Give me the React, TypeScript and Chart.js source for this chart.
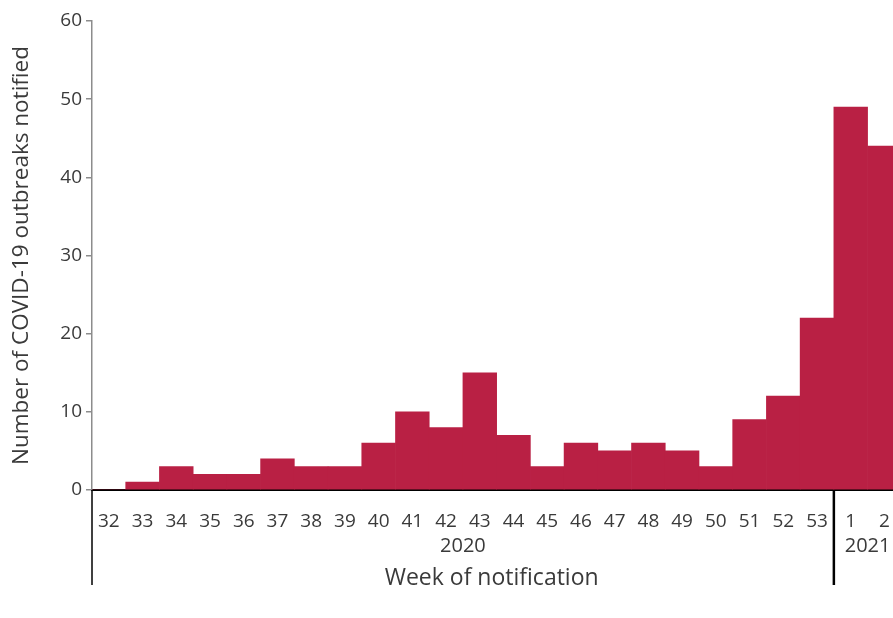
import React, { useEffect, useRef } from "react";
import { Chart, registerables } from "chart.js";

Chart.register(...registerables);

const weekLabels: string[] = ["32","33","34","35","36","37","38","39","40","41","42","43","44","45","46","47","48","49","50","51","52","53","1","2"];
const outbreaks: number[] = [0,1,3,2,2,4,3,3,6,10,8,15,7,3,6,5,6,5,3,9,12,22,49,44];
const yearGroups: { year: string; from: number; to: number }[] = [
  { year: "2020", from: 0, to: 21 },
  { year: "2021", from: 22, to: 23 },
];
const yTicks: number[] = [0, 10, 20, 30, 40, 50, 60];

const FONT = "'Open Sans', 'Liberation Sans', sans-serif";
const TEXT = "#3a3a3a";
const BAR = "#B92044";

const annotations = {
  id: "annotations",
  afterDraw(chart: any) {
    const { ctx, chartArea } = chart;
    const x = chart.scales.x;
    const base = chartArea.bottom;
    ctx.save();
    const edges: number[] = [];
    yearGroups.forEach((g, i) => {
      const left = i === 0 ? x.left : (x.getPixelForValue(g.from - 1) + x.getPixelForValue(g.from)) / 2;
      edges.push(left);
    });
    ctx.strokeStyle = "#000";
    edges.forEach((ex, i) => {
      ctx.lineWidth = i === 0 ? 1.5 : 2.5;
      ctx.beginPath();
      ctx.moveTo(ex, base);
      ctx.lineTo(ex, base + 95);
      ctx.stroke();
    });
    ctx.fillStyle = TEXT;
    ctx.font = `20px ${FONT}`;
    ctx.textAlign = "center";
    ctx.textBaseline = "middle";
    yearGroups.forEach((g) => {
      const l = g.from === 0 ? x.left : (x.getPixelForValue(g.from - 1) + x.getPixelForValue(g.from)) / 2;
      const r = g.to === weekLabels.length - 1 ? x.right : (x.getPixelForValue(g.to) + x.getPixelForValue(g.to + 1)) / 2;
      ctx.fillText(g.year, (l + r) / 2, base + 56);
    });
    ctx.font = `23px ${FONT}`;
    ctx.fillText("Week of notification", (chartArea.left + chartArea.right) / 2 - 5, base + 88);
    ctx.font = `22.5px ${FONT}`;
    ctx.translate(22, (chartArea.top + chartArea.bottom) / 2);
    ctx.rotate(-Math.PI / 2);
    ctx.fillText("Number of COVID-19 outbreaks notified", 0, 0);
    ctx.restore();
  },
};

export default function App() {
  const ref = useRef<HTMLCanvasElement>(null);
  useEffect(() => {
    if (!ref.current) return;
    const chart = new Chart(ref.current, {
      type: "bar",
      data: {
        labels: weekLabels,
        datasets: [
          {
            data: outbreaks,
            backgroundColor: BAR,
            borderWidth: 0,
            barPercentage: 1,
            categoryPercentage: 1,
          },
        ],
      },
      options: {
        animation: false,
        responsive: false,
        devicePixelRatio: 1,
        layout: { padding: { top: 21, right: 6, left: 0, bottom: 0 } },
        plugins: { legend: { display: false }, tooltip: { enabled: false } },
        scales: {
          x: {
            grid: { display: false, drawTicks: false },
            border: { color: "#000", width: 2 },
            ticks: {
              color: TEXT,
              font: { family: FONT, size: 19 },
              padding: 20,
              maxRotation: 0,
              autoSkip: false,
            },
            afterFit: (s: any) => { s.height = 128; },
          },
          y: {
            min: 0,
            max: 60,
            afterBuildTicks: (s: any) => { s.ticks = yTicks.map((v) => ({ value: v })); },
            grid: { drawOnChartArea: false, drawTicks: true, tickLength: 6, color: "#8c8c8c", lineWidth: 1.5 },
            border: { color: "#8c8c8c", width: 1.5 },
            ticks: {
              color: TEXT,
              font: { family: FONT, size: 19 },
              padding: 4,
            },
            afterFit: (s: any) => { s.width = 92; },
          },
        },
      },
      plugins: [annotations],
    });
    return () => chart.destroy();
  }, []);
  return (
    <div style={{ position: "fixed", left: 0, top: 0, width: 893, height: 618, overflow: "hidden", background: "#fff" }}>
      <canvas ref={ref} width={910} height={618} style={{ width: 910, height: 618, display: "block" }} />
    </div>
  );
}
